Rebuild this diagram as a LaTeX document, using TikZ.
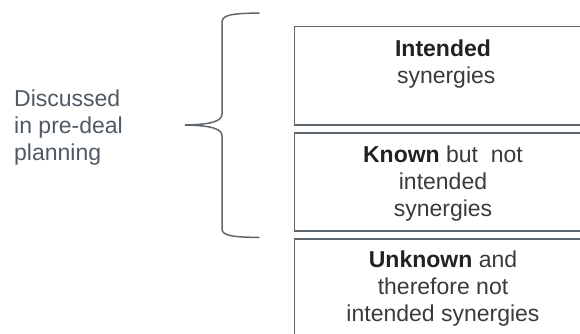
\documentclass[tikz,border=0pt]{standalone}
\usepackage{fontspec}
\setmainfont{Liberation Sans}
\definecolor{framegray}{HTML}{5E676D}
\definecolor{labelgray}{HTML}{4F5A64}
\definecolor{bodytext}{HTML}{3A3A3A}
\definecolor{boldtext}{HTML}{222222}
\begin{document}
\begin{tikzpicture}[x=1pt,y=-1pt,
  catbox/.style={draw=framegray, line width=1.5pt, rectangle, inner sep=0pt,
    minimum width=297.5pt, minimum height=98pt, anchor=north west},
  boxtext/.style={anchor=north, inner sep=0pt, align=center, text=bodytext,
    font=\fontsize{23}{27}\selectfont},
  sidetext/.style={anchor=north west, inner sep=0pt, align=left, text=labelgray,
    font=\fontsize{23}{27}\selectfont},
  bracepath/.style={draw=framegray, line width=1.5pt, line cap=round}]
\useasboundingbox (0,0) rectangle (580,334);
\clip (0,0) rectangle (580,334);

% the three synergy categories
\node[catbox] (b1) at (293.5,26) {};
\node[catbox] (b2) at (293.5,132) {};
\node[catbox] (b3) at (293.5,238) {};

\node[boxtext] (t1) at ([yshift=-13.5pt]b1.north) {\textcolor{boldtext}{\textbf{Intended}}\\ \hspace*{0.28em}synergies};
\node[boxtext] (t2) at ([yshift=-13.5pt]b2.north) {\textcolor{boldtext}{\textbf{Known}} but\ \ not\\ intended\\ synergies};
\node[boxtext] (t3) at ([yshift=-12.5pt]b3.north) {\textcolor{boldtext}{\textbf{Unknown}} and\\ therefore not\\ intended synergies};

% side label
\node[sidetext] (lab) at (14,89.5) {Discussed\\ in pre-deal\\ planning};

% curly brace grouping the first two categories
\coordinate (btop) at (259,13);
\coordinate (btip) at (185,125);
\coordinate (bbot) at (259,237.5);
\draw[bracepath] (btop) .. controls (236,13.5) and (222,14) .. (222,22)
  -- (222,114) .. controls (222,121) and (212,124.5) .. (btip)
  .. controls (212,125.5) and (222,129) .. (222,136)
  -- (222,229) .. controls (222,236.5) and (236,237) .. (bbot);
\end{tikzpicture}
\end{document}
